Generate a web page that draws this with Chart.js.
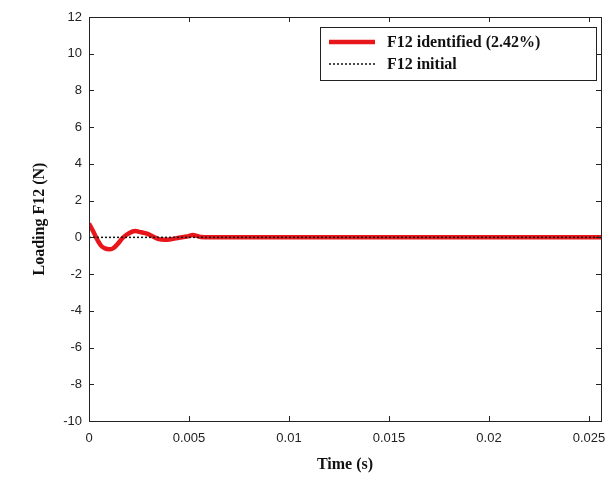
<!DOCTYPE html>
<html>
<head>
<meta charset="utf-8">
<script src="https://cdn.jsdelivr.net/npm/chart.js@4"></script>
<style>
  html, body { margin: 0; padding: 0; background: #fff; }
  #wrap { width: 616px; height: 478px; }
</style>
</head>
<body>
<div id="wrap"><canvas id="c" width="616" height="478"></canvas></div>
<script>
// data
const timeIdentified = [0, 0.0002, 0.0004, 0.0006, 0.0008, 0.001, 0.0012, 0.0014, 0.0017, 0.002, 0.0023, 0.0026, 0.0029, 0.0032, 0.0035, 0.0038, 0.0041, 0.0045, 0.0049, 0.0052, 0.0054, 0.0056, 0.006, 0.008, 0.01, 0.012, 0.014, 0.016, 0.018, 0.02, 0.022, 0.024, 0.0256];
const f12Identified = [0.75, 0.35, -0.1, -0.45, -0.6, -0.65, -0.6, -0.4, -0.02, 0.22, 0.34, 0.28, 0.2, 0.05, -0.1, -0.13, -0.1, -0.02, 0.05, 0.13, 0.08, 0.02, 0, 0, 0, 0, 0, 0, 0, 0, 0, 0, 0];
const timeInitial = [0, 0.0256];
const f12Initial = [0, 0];

const xTicks = [0, 0.005, 0.01, 0.015, 0.02, 0.025];
const yTicks = [-10, -8, -6, -4, -2, 0, 2, 4, 6, 8, 10, 12];
const xRange = [0, 0.0256];
const yRange = [-10, 12];

const labels = ['F12 identified (2.42%)', 'F12 initial'];

// inward ticks on all four sides + frame, like the matlab axes
const frame = {
  id: 'frame',
  afterDatasetsDraw(chart) {
    const { ctx, chartArea: a, scales } = chart;
    ctx.save();
    ctx.strokeStyle = '#222';
    ctx.lineWidth = 1;
    ctx.strokeRect(a.left + 0.5, a.top + 0.5, a.right - a.left, a.bottom - a.top);
    ctx.beginPath();
    xTicks.forEach(v => {
      const px = Math.round(scales.x.getPixelForValue(v)) + 0.5;
      ctx.moveTo(px, a.bottom); ctx.lineTo(px, a.bottom - 5);
      ctx.moveTo(px, a.top); ctx.lineTo(px, a.top + 5);
    });
    yTicks.forEach(v => {
      const py = Math.round(scales.y.getPixelForValue(v)) + 0.5;
      ctx.moveTo(a.left, py); ctx.lineTo(a.left + 5, py);
      ctx.moveTo(a.right, py); ctx.lineTo(a.right - 5, py);
    });
    ctx.stroke();
    ctx.restore();
  }
};

// boxed legend in the upper right corner
const boxLegend = {
  id: 'boxLegend',
  afterDraw(chart) {
    const { ctx, chartArea: a } = chart;
    const x0 = 320, y0 = 27, w = a.right - 5 - x0, h = 53;
    ctx.save();
    ctx.fillStyle = '#fff';
    ctx.fillRect(x0, y0, w, h);
    ctx.strokeStyle = '#222';
    ctx.lineWidth = 1;
    ctx.strokeRect(x0 + 0.5, y0 + 0.5, w, h);
    const ds = chart.data.datasets;
    const rows = [y0 + 15, y0 + 37];
    ds.forEach((d, i) => {
      ctx.beginPath();
      ctx.strokeStyle = d.borderColor;
      ctx.lineWidth = d.borderWidth;
      ctx.setLineDash(d.borderDash || []);
      ctx.moveTo(x0 + 9, rows[i]);
      ctx.lineTo(x0 + 55, rows[i]);
      ctx.stroke();
      ctx.setLineDash([]);
      ctx.fillStyle = '#111';
      ctx.font = 'bold 16px "Liberation Serif", serif';
      ctx.textBaseline = 'middle';
      ctx.fillText(d.label, x0 + 67, rows[i] + 1);
    });
    ctx.restore();
  }
};

const tickFont = { family: '"Liberation Sans", Arial, sans-serif', size: 13 };

new Chart(document.getElementById('c'), {
  type: 'line',
  data: {
    datasets: [
      {
        label: labels[0],
        data: timeIdentified.map((t, i) => ({ x: t, y: f12Identified[i] })),
        borderColor: '#e8161b',
        borderWidth: 4.5,
        pointRadius: 0,
        cubicInterpolationMode: 'monotone',
        order: 1
      },
      {
        label: labels[1],
        data: timeInitial.map((t, i) => ({ x: t, y: f12Initial[i] })),
        borderColor: '#111',
        borderWidth: 1.5,
        borderDash: [2, 2],
        pointRadius: 0,
        order: 0
      }
    ]
  },
  options: {
    responsive: false,
    animation: false,
    layout: { padding: { top: 17, right: 15, left: 26, bottom: 0 } },
    plugins: { legend: { display: false }, tooltip: { enabled: false } },
    scales: {
      x: {
        type: 'linear',
        min: xRange[0], max: xRange[1],
        afterBuildTicks: s => { s.ticks = xTicks.map(v => ({ value: v })); },
        afterFit: s => { s.height = 57; },
        grid: { display: false, drawTicks: false },
        border: { display: false },
        ticks: {
          font: tickFont, color: '#222', padding: 10, maxRotation: 0,
          callback: v => String(v)
        },
        title: {
          display: true, text: 'Time (s)', color: '#111',
          font: { family: '"Liberation Serif", serif', size: 16, weight: 'bold' },
          padding: { top: 5 }
        }
      },
      y: {
        min: yRange[0], max: yRange[1],
        afterBuildTicks: s => { s.ticks = yTicks.map(v => ({ value: v })); },
        afterFit: s => { s.width = 63; },
        grid: { display: false, drawTicks: false },
        border: { display: false },
        ticks: { font: tickFont, color: '#222', padding: 7 },
        title: {
          display: true, text: 'Loading F12 (N)', color: '#111',
          font: { family: '"Liberation Serif", serif', size: 16, weight: 'bold' },
          padding: { bottom: 6 }
        }
      }
    }
  },
  plugins: [frame, boxLegend]
});
</script>
</body>
</html>
